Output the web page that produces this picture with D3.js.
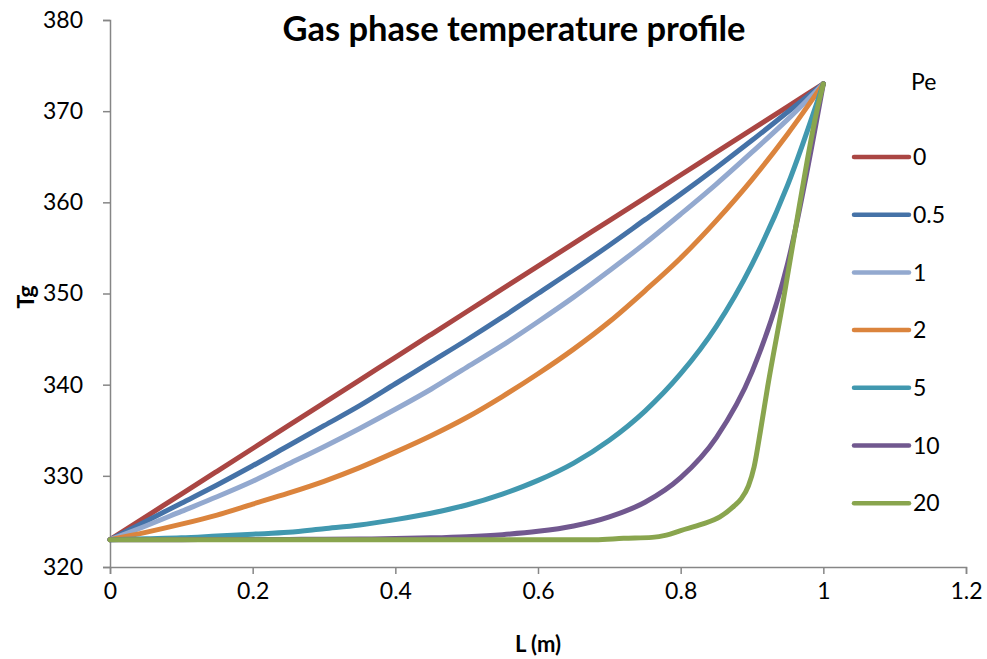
<!DOCTYPE html>
<html lang="en">
<head>
    <meta charset="UTF-8">
    <title>Gas phase temperature profile</title>
    <style>
        body { margin: 0; background: #fff; }
        text { font-family: Lato, "Open Sans", sans-serif; fill: #000; }
    </style>
    <script src="https://d3js.org/d3.v7.min.js"></script>
</head>
<body>
    <div id="chart"></div>

    <script>
        // reactor length (m), shared grid for most curves
        const L = [0, 0.05, 0.1, 0.15, 0.2, 0.25, 0.3, 0.35, 0.4, 0.45, 0.5,
                   0.55, 0.6, 0.65, 0.7, 0.75, 0.8, 0.85, 0.9, 0.95, 1.0];

        const tgPe0  = [323, 325.5, 328, 330.5, 333, 335.5, 338, 340.5, 343, 345.5, 348,
                        350.5, 353, 355.5, 358, 360.5, 363, 365.5, 368, 370.5, 373];
        const tgPe05 = [323, 325.0, 327.0, 329.0, 331.1, 333.3, 335.5, 337.7, 340.1, 342.5, 344.9,
                        347.4, 350.0, 352.6, 355.3, 358.1, 360.9, 363.8, 366.8, 369.9, 373];
        const tgPe1  = [323, 324.5, 326.1, 327.7, 329.4, 331.3, 333.2, 335.2, 337.3, 339.5, 341.9,
                        344.3, 346.9, 349.6, 352.5, 355.5, 358.7, 362.0, 365.5, 369.1, 373];
        const tgPe2  = [323, 323.8, 324.7, 325.7, 326.9, 328.1, 329.4, 330.9, 332.6, 334.4, 336.4,
                        338.7, 341.2, 343.9, 346.9, 350.3, 353.9, 358.0, 362.5, 367.5, 373];
        const tgPe5  = [323, 323.1, 323.2, 323.4, 323.6, 323.8, 324.2, 324.6, 325.2, 325.9, 326.8,
                        328.0, 329.5, 331.4, 333.9, 337.1, 341.2, 346.4, 353.2, 361.9, 373];
        const tgPe10 = [323, 323.0, 323.0, 323.01, 323.01, 323.03, 323.04, 323.07, 323.12, 323.2, 323.33,
                        323.55, 323.91, 324.5, 325.5, 327.1, 329.8, 334.2, 341.4, 353.3, 373];

        // Pe = 20 needs its own, denser grid near the outlet
        const L20   = [0, 0.1, 0.2, 0.3, 0.4, 0.5, 0.6, 0.68, 0.72, 0.76, 0.78, 0.8, 0.83,
                       0.855, 0.875, 0.885, 0.895, 0.903, 0.912, 0.922, 0.944, 0.967, 0.99, 1.0];
        const tgPe20 = [323, 323, 323, 323, 323, 323, 323, 323.0, 323.15, 323.25, 323.5, 324.0, 324.7,
                        325.5, 326.7, 327.5, 328.9, 331.0, 335.0, 339.8, 349.3, 359.9, 369.7, 373];

        const peLabels = ["0", "0.5", "1", "2", "5", "10", "20"];
        const colors = ["#AA4643", "#4572A7", "#93A9CF", "#DB843D", "#4198AF", "#71588F", "#89A54E"];

        const xTicks = [0, 0.2, 0.4, 0.6, 0.8, 1, 1.2];
        const yTicks = [320, 330, 340, 350, 360, 370, 380];

        const series = [
            { xs: L, ys: tgPe0 },
            { xs: L, ys: tgPe05 },
            { xs: L, ys: tgPe1 },
            { xs: L, ys: tgPe2 },
            { xs: L, ys: tgPe5 },
            { xs: L, ys: tgPe10 },
            { xs: L20, ys: tgPe20 }
        ];

        const width = 987, height = 659;
        const margin = { left: 110, right: 21, top: 20, bottom: 92 };

        const svg = d3.select("#chart").append("svg")
            .attr("width", width)
            .attr("height", height);

        const x = d3.scaleLinear().domain([0, 1.2]).range([margin.left, width - margin.right]);
        const y = d3.scaleLinear().domain([320, 380]).range([height - margin.bottom, margin.top]);

        const axisColor = "#868686";

        const gx = svg.append("g")
            .attr("transform", `translate(0,${height - margin.bottom})`)
            .call(d3.axisBottom(x).tickValues(xTicks).tickSize(7).tickPadding(9)
                .tickFormat(d => d3.format("~g")(d)));

        const gy = svg.append("g")
            .attr("transform", `translate(${margin.left},0)`)
            .call(d3.axisLeft(y).tickValues(yTicks).tickSize(7).tickPadding(20));

        [gx, gy].forEach(g => {
            g.select(".domain").attr("stroke", axisColor).attr("stroke-width", 1.5);
            g.selectAll(".tick line").attr("stroke", axisColor).attr("stroke-width", 1.5);
            g.selectAll(".tick text")
                .attr("font-family", "Lato, sans-serif")
                .attr("font-size", 23)
                .attr("fill", "#000");
        });

        const line = d3.line()
            .x(d => x(d[0]))
            .y(d => y(d[1]))
            .curve(d3.curveMonotoneX);

        svg.append("g").selectAll("path")
            .data(series)
            .enter().append("path")
            .attr("d", s => line(s.xs.map((v, i) => [v, s.ys[i]])))
            .attr("fill", "none")
            .attr("stroke", (s, i) => colors[i])
            .attr("stroke-width", 5)
            .attr("stroke-linejoin", "round")
            .attr("stroke-linecap", "round");

        // title
        svg.append("text")
            .attr("x", 514)
            .attr("y", 41)
            .attr("text-anchor", "middle")
            .attr("font-size", 34.5)
            .attr("font-weight", "bold")
            .text("Gas phase temperature profile");

        // axis titles
        svg.append("text")
            .attr("x", 538)
            .attr("y", 652)
            .attr("text-anchor", "middle")
            .attr("font-size", 22)
            .attr("font-weight", "bold")
            .text("L (m)");

        svg.append("text")
            .attr("transform", "translate(34,297) rotate(-90)")
            .attr("text-anchor", "middle")
            .attr("font-size", 23)
            .attr("font-weight", "bold")
            .text("Tg");

        // legend
        const legend = svg.append("g").attr("transform", "translate(854,0)");
        legend.append("text")
            .attr("x", 57)
            .attr("y", 90)
            .attr("font-size", 23)
            .text("Pe");

        const item = legend.selectAll("g.item")
            .data(peLabels)
            .enter().append("g")
            .attr("class", "item")
            .attr("transform", (d, i) => `translate(0,${157 + i * 57.7})`);

        item.append("line")
            .attr("x1", 0).attr("x2", 55)
            .attr("stroke", (d, i) => colors[i])
            .attr("stroke-width", 4.5)
            .attr("stroke-linecap", "round");

        item.append("text")
            .attr("x", 59)
            .attr("dy", "0.36em")
            .attr("font-size", 23)
            .text(d => d);
    </script>
</body>
</html>
